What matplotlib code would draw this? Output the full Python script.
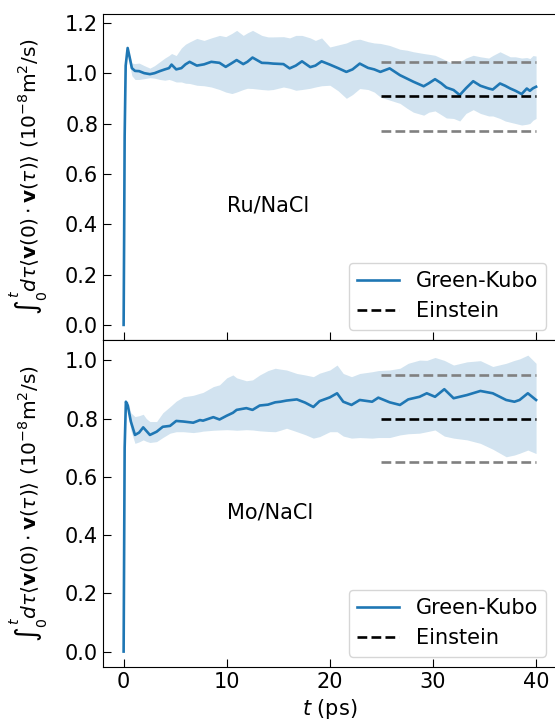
import matplotlib
matplotlib.use("Agg")
import matplotlib.pyplot as plt
import numpy as np

# ---- Ru/NaCl: running Green-Kubo integral with its spread ----
t_ru = [0, 0.05, 0.1, 0.2, 0.39, 0.6, 0.8, 1.1, 1.5, 2.0, 2.55, 3.0, 3.5, 4.0, 4.4, 4.65,
        5.1, 5.6, 6.0, 6.4, 7.1, 7.8, 8.5, 9.3, 9.9, 10.5, 10.96, 11.6, 12.0, 12.5, 13.4,
        14.0, 14.5, 15.5, 16.1, 16.7, 17.3, 18.1, 18.6, 19.2, 20.0, 20.8, 21.6, 22.2, 22.9,
        23.7, 24.3, 24.9, 25.8, 26.8, 27.5, 28.1, 29.1, 29.6, 30.2, 30.8, 31.3, 32.0, 32.6,
        33.2, 33.9, 34.6, 35.4, 35.8, 36.5, 37.0, 37.5, 38.0, 38.6, 39.1, 39.4, 39.7, 40.0]
gk_ru = [0.0, 0.35, 0.75, 1.03, 1.10, 1.06, 1.02, 1.009, 1.008, 1.0, 0.996, 1.0, 1.008,
         1.015, 1.02, 1.034, 1.015, 1.02, 1.035, 1.045, 1.03, 1.035, 1.045, 1.041, 1.025,
         1.04, 1.052, 1.036, 1.045, 1.062, 1.041, 1.04, 1.038, 1.036, 1.019, 1.03, 1.047,
         1.024, 1.03, 1.047, 1.034, 1.02, 1.005, 1.015, 1.038, 1.021, 1.015, 1.005, 1.019,
         0.992, 0.978, 0.966, 0.948, 0.96, 0.976, 0.96, 0.943, 0.933, 0.913, 0.94, 0.968,
         0.95, 0.939, 0.935, 0.959, 0.95, 0.939, 0.93, 0.917, 0.939, 0.93, 0.94, 0.946]
gk_ru_hi = [0.0, 0.35, 0.75, 1.03, 1.10, 1.07, 1.04, 1.038, 1.04, 1.03, 1.02, 1.03, 1.045,
            1.06, 1.07, 1.078, 1.07, 1.10, 1.115, 1.124, 1.138, 1.13, 1.14, 1.15, 1.145,
            1.158, 1.17, 1.15, 1.16, 1.17, 1.15, 1.144, 1.144, 1.145, 1.14, 1.15, 1.15,
            1.14, 1.13, 1.14, 1.104, 1.112, 1.12, 1.131, 1.135, 1.125, 1.12, 1.118, 1.11,
            1.095, 1.091, 1.085, 1.078, 1.075, 1.071, 1.06, 1.05, 1.038, 1.045, 1.06, 1.071,
            1.065, 1.06, 1.07, 1.085, 1.075, 1.065, 1.065, 1.06, 1.062, 1.058, 1.07, 1.068]
gk_ru_lo = [0.0, 0.35, 0.75, 1.03, 1.10, 1.03, 0.99, 0.975, 0.975, 0.978, 0.982, 0.98,
            0.975, 0.972, 0.975, 0.972, 0.965, 0.965, 0.96, 0.959, 0.952, 0.95, 0.945,
            0.935, 0.925, 0.919, 0.925, 0.935, 0.94, 0.939, 0.935, 0.933, 0.935, 0.945,
            0.94, 0.932, 0.935, 0.94, 0.945, 0.95, 0.952, 0.93, 0.900, 0.915, 0.939, 0.935,
            0.925, 0.905, 0.893, 0.88, 0.86, 0.845, 0.833, 0.845, 0.85, 0.835, 0.822, 0.82,
            0.81, 0.84, 0.855, 0.84, 0.83, 0.83, 0.82, 0.81, 0.805, 0.8, 0.794, 0.797,
            0.80, 0.813, 0.82]
einstein_ru = 0.908
einstein_ru_err = 0.138

# ---- Mo/NaCl ----
t_mo = [0, 0.05, 0.1, 0.22, 0.4, 0.7, 1.1, 1.5, 1.9, 2.2, 2.55, 3.2, 3.8, 4.5, 5.1, 5.8,
        6.75, 7.4, 7.7, 8.7, 9.3, 10.0, 10.6, 10.96, 11.9, 12.5, 13.2, 14.0, 14.7, 15.2,
        15.8, 16.8, 17.6, 18.4, 19.0, 20.0, 20.7, 21.3, 22.1, 22.9, 24.1, 24.7, 25.8, 26.8,
        27.6, 28.7, 29.4, 30.2, 31.1, 32.0, 33.3, 34.6, 35.8, 37.1, 37.9, 38.4, 39.2, 40.0]
gk_mo = [0.0, 0.35, 0.7, 0.858, 0.845, 0.79, 0.744, 0.752, 0.770, 0.758, 0.744, 0.755,
         0.772, 0.775, 0.792, 0.79, 0.786, 0.795, 0.793, 0.805, 0.797, 0.81, 0.82, 0.83,
         0.836, 0.83, 0.845, 0.848, 0.856, 0.858, 0.862, 0.866, 0.855, 0.84, 0.86, 0.873,
         0.887, 0.858, 0.847, 0.864, 0.858, 0.872, 0.856, 0.847, 0.866, 0.875, 0.887, 0.875,
         0.901, 0.870, 0.881, 0.895, 0.887, 0.864, 0.858, 0.864, 0.887, 0.864]
gk_mo_hi = [0.0, 0.35, 0.7, 0.858, 0.86, 0.82, 0.807, 0.81, 0.815, 0.80, 0.79, 0.79, 0.82,
            0.841, 0.86, 0.875, 0.88, 0.887, 0.89, 0.91, 0.916, 0.94, 0.95, 0.94, 0.93,
            0.933, 0.95, 0.965, 0.973, 0.97, 0.967, 0.955, 0.95, 0.944, 0.956, 0.967, 0.984,
            0.955, 0.944, 0.955, 0.961, 0.965, 0.967, 0.973, 0.99, 1.001, 1.0, 1.01, 1.0,
            0.984, 0.995, 0.999, 0.979, 0.99, 1.0, 1.005, 1.018, 0.99]
gk_mo_lo = [0.0, 0.35, 0.7, 0.858, 0.83, 0.76, 0.715, 0.72, 0.727, 0.722, 0.718, 0.721,
            0.735, 0.75, 0.755, 0.755, 0.752, 0.755, 0.757, 0.76, 0.761, 0.762, 0.761,
            0.76, 0.762, 0.761, 0.758, 0.756, 0.755, 0.76, 0.767, 0.755, 0.745, 0.733,
            0.738, 0.755, 0.755, 0.74, 0.733, 0.735, 0.733, 0.735, 0.735, 0.744, 0.748,
            0.75, 0.755, 0.761, 0.74, 0.733, 0.727, 0.715, 0.695, 0.669, 0.675, 0.681,
            0.692, 0.68]
einstein_mo = 0.800
einstein_mo_err = 0.150

einstein_window = [25, 40]

panels = [
    ("Ru/NaCl", t_ru, gk_ru, gk_ru_lo, gk_ru_hi, einstein_ru, einstein_ru_err, (-0.06, 1.235),
     [0.0, 0.2, 0.4, 0.6, 0.8, 1.0, 1.2]),
    ("Mo/NaCl", t_mo, gk_mo, gk_mo_lo, gk_mo_hi, einstein_mo, einstein_mo_err, (-0.053, 1.07),
     [0.0, 0.2, 0.4, 0.6, 0.8, 1.0]),
]

FS = 15
plt.rcParams["font.family"] = ["DejaVu Sans"]
plt.rcParams["mathtext.fontset"] = "dejavusans"

fig = plt.figure(figsize=(5.55, 7.26), dpi=100)
W, H = 555, 726
left = 103 / W
right = 556.7 / W
axes_px = [(14, 340), (340, 667)]

ylabel = (r"$\int_0^t d\tau\langle\mathbf{v}(0)\cdot\mathbf{v}(\tau)\rangle$"
          r" $(10^{-8}\mathrm{m}^2/\mathrm{s})$")

axes = []
for (top, bot), (name, t, gk, lo, hi, ein, err, ylim, yt) in zip(axes_px, panels):
    ax = fig.add_axes([left, 1 - bot / H, right - left, (bot - top) / H])
    axes.append(ax)
    ax.fill_between(t, lo, hi, color="#1f77b4", alpha=0.2, linewidth=0)
    ax.plot(t, gk, color="#1f77b4", lw=1.9, label="Green-Kubo")
    ax.plot(einstein_window, [ein, ein], "--", color="black", lw=1.9, label="Einstein")
    ax.plot(einstein_window, [ein + err, ein + err], "--", color="grey", lw=1.9)
    ax.plot(einstein_window, [ein - err, ein - err], "--", color="grey", lw=1.9)
    ax.text(10, 0.476, name, fontsize=FS, va="center", ha="left")
    ax.set_xlim(-2, 42)
    ax.set_ylim(*ylim)
    ax.set_yticks(yt)
    ax.set_xticks([0, 10, 20, 30, 40])
    ax.tick_params(direction="in", length=6, width=0.8, labelsize=FS)
    ax.set_ylabel(ylabel, fontsize=14.5)
    ax.legend(loc="lower right", fontsize=FS, frameon=True, handlelength=2.0,
              bbox_to_anchor=(1.0, 0.0))

axes[0].tick_params(labelbottom=False)
axes[1].set_xlabel(r"$t$ (ps)", fontsize=FS)
for ax in axes:
    ax.yaxis.set_label_coords(-0.117, 0.5)

fig.savefig("out.png", dpi=100)
